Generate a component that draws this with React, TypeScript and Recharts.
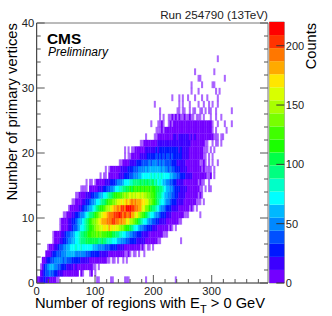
import React from "react";
import { ScatterChart, Scatter, XAxis, YAxis, BarChart, Bar, ReferenceArea } from "recharts";

const FONT = "'Liberation Sans', Arial, sans-serif";
const BIN_X = 3; // regions per bin
const X_MAX = 396.5;
const Y_MAX = 40;
const Z_MAX = 220;
const BAND = 11;

const palette = ["#7300ff","#3c00ff","#0018ff","#0050ff","#0088ff","#00b8ff","#00ffff","#00ffc8","#00ff80","#00ff48","#1aff00","#40ff00","#78ff00","#a8ff00","#d8ff00","#ffe600","#ffaa00","#ff7700","#ff3300","#ff0000"];

const xTicks = [0,20,40,60,80,100,120,140,160,180,200,220,240,260,280,300,320,340,360,380];
const yTicks = [0,2,4,6,8,10,12,14,16,18,20,22,24,26,28,30,32,34,36,38,40];
const zTicks = [0,50,100,150,200];

// counts per vertex row, first value sits in bin rowStarts[row]
const row00 = [4,9,15,20,24,18,14,9,6,4,2,1,1,0,0,0,0,0,0,0,0,0,0,0,0,0,0,0,0,0,0,0,0,0,1,1,0,0,0,0,0,0,1,1,0,0,0,0,0,0,1,1,1,0,0,0,0,0,0,0,0,0,1,0,0,0,0,0,0,0,0,0,0,0,0,0,0,0,0,1];
const row01 = [3,14,26,38,42,46,40,33,24,22,17,14,11,9,10,7,6,5,4,5,3,2,0,2,1,0,0,0,1,2,0,1];
const row02 = [1,8,22,38,52,60,58,55,50,44,38,35,30,27,23,19,16,15,12,10,11,8,7,6,5,4,3,3,2,2,1,1,0,1];
const row03 = [2,6,14,24,32,36,42,45,48,46,44,47,42,44,38,36,38,32,30,27,25,22,20,19,15,14,12,10,9,7,6,5,4,3,3,2,2,1,1,0,1,1,0,1,0,0,1,0,1];
const row04 = [2,5,9,15,22,28,33,38,42,48,50,54,58,56,60,55,57,54,52,48,50,44,46,40,37,38,32,30,27,24,23,19,17,15,12,11,9,7,6,6,4,3,3,2,2,1,1,2,1,0,1,1,0,1,0,0,1];
const row05 = [1,3,6,10,15,20,27,33,40,47,52,58,64,68,72,75,78,74,76,80,76,72,74,70,68,66,62,60,56,54,50,48,44,40,38,34,30,28,25,22,19,17,15,12,10,9,8,6,5,4,4,3,2,1,2,1,0,1,1,0,1];
const row06 = [1,2,4,7,12,18,24,30,36,44,50,56,62,68,74,82,88,92,98,100,104,108,102,106,100,104,98,96,100,92,94,86,84,78,76,70,66,60,58,52,48,44,40,36,32,30,26,23,20,17,14,12,11,8,7,5,4,3,3,2,1,1,0,0,0,0,0,0,0,0,0,0,0,1];
const row07 = [1,2,3,6,9,14,20,26,33,40,47,54,60,68,74,82,88,96,102,108,114,118,124,128,122,132,126,134,128,122,126,118,120,112,106,102,96,90,86,78,72,68,60,56,50,46,40,36,32,28,24,20,18,15,12,10,8,6,5,4,3,2,2,1,1,1];
const row08 = [1,2,4,6,10,15,20,27,34,42,50,58,66,74,84,92,102,110,118,128,136,146,152,160,156,168,172,164,176,170,160,166,154,158,146,140,132,126,116,110,100,94,84,76,68,62,54,48,42,36,30,26,22,18,15,12,10,8,6,5,3,2,1,2,1,0,1];
const row09 = [1,2,3,6,9,13,18,25,32,40,48,56,64,74,82,92,102,112,122,132,142,150,160,170,178,186,180,192,196,188,198,204,190,196,184,192,176,180,164,168,150,144,132,124,112,104,94,86,76,68,60,52,46,40,34,29,24,20,17,14,11,9,7,5,4,3,2,2,1,1];
const row10 = [1,1,3,4,7,11,16,22,28,36,44,52,60,70,78,88,98,108,118,128,138,148,158,166,174,182,190,196,188,202,206,198,210,204,192,208,196,188,198,176,182,160,166,146,138,124,118,104,96,84,76,66,58,50,44,38,32,27,22,19,16,13,10,8,6,5,3,2,2,1,1,1,0,0,0,0,0,0,1];
const row11 = [1,2,2,4,7,10,14,20,26,33,40,48,56,64,72,82,92,100,110,118,128,136,146,152,160,170,176,186,192,184,198,206,194,212,218,214,200,206,190,196,176,182,162,156,140,134,118,108,96,88,78,68,60,52,44,38,32,27,24,20,16,13,11,9,7,5,4,3,2,1,2,1,0,1];
const row12 = [1,1,3,3,6,9,13,18,24,30,36,44,52,58,66,74,82,90,98,106,114,122,130,138,142,150,154,162,168,160,172,178,168,184,188,178,192,182,176,186,170,174,156,160,142,136,122,116,102,94,86,74,66,58,50,44,38,32,28,24,20,16,13,11,9,7,6,4,3,2,2,1,1,1,0,1];
const row13 = [1,1,2,3,5,8,11,15,20,25,30,36,42,50,56,62,68,76,82,90,96,104,110,118,124,130,126,138,144,136,150,154,146,158,150,162,154,148,160,146,150,138,142,124,130,112,106,96,88,80,70,64,56,50,44,38,33,28,24,20,17,14,12,9,8,6,5,3,3,2,1,2,1];
const row14 = [1,1,1,1,0,2,2,4,6,8,12,16,20,25,30,36,42,48,54,60,66,72,78,86,92,98,104,108,112,106,118,122,114,126,120,128,118,130,122,116,124,110,114,100,104,90,92,78,72,64,56,50,44,38,32,28,24,20,17,14,11,9,7,6,4,3,3,2,1,1,0,1,0,1,1];
const row15 = [1,0,1,1,0,1,2,3,4,6,9,12,15,19,23,28,32,38,44,48,54,60,66,70,76,82,86,90,94,88,96,100,92,102,96,104,98,92,100,86,90,76,80,68,62,56,50,44,38,34,28,24,21,18,15,12,10,8,7,5,4,3,3,2,1,2,1,1,0,0,1];
const row16 = [1,0,1,1,0,2,3,4,5,8,10,13,17,20,24,28,32,37,41,46,50,54,58,62,66,70,72,76,70,78,74,80,76,82,74,78,70,72,66,68,58,60,50,46,40,36,30,27,22,19,16,14,11,9,8,6,5,4,3,3,2,1,1,2,0,1];
const row17 = [1,0,1,2,3,4,5,7,9,11,14,17,20,24,27,31,35,38,42,45,48,52,50,56,54,60,57,62,58,64,56,60,52,56,48,50,42,44,37,33,30,26,22,19,16,14,11,10,8,6,5,4,3,3,2,1,2,1,1,1,1,0,1];
const row18 = [1,1,2,4,6,9,11,14,17,20,24,27,30,34,37,40,38,44,42,46,44,48,42,46,40,44,38,40,34,36,30,27,24,21,18,15,13,11,9,7,6,5,4,3,2,2,1,1,2,1,0,1,0,1,0,0,1];
const row19 = [1,0,1,1,3,4,6,8,10,13,15,18,21,24,27,26,30,28,33,31,35,30,36,32,37,33,30,34,28,30,26,27,23,20,17,15,12,10,8,6,5,4,3,2,2,1,1,0,1,0,1];
const row20 = [1,0,1,0,1,1,2,3,5,6,8,9,11,13,15,17,18,20,22,21,24,23,26,24,27,25,28,24,26,22,24,20,22,18,16,14,12,10,8,7,6,4,3,2,2,1,1,1,0,1,0,1];
const row21 = [1,1,2,2,3,5,6,7,9,10,11,13,14,15,16,18,17,19,18,20,18,17,19,16,17,14,15,13,12,10,8,7,6,4,3,2,2,1,1,0,0,1,0,1,1,0,1];
const row22 = [1,0,0,0,0,1,1,2,3,4,5,6,7,8,9,10,11,12,10,13,11,14,12,11,13,10,12,9,11,8,9,7,6,5,4,3,3,2,2,1,1,1,0,1,1];
const row23 = [1,1,1,2,1,2,3,2,4,3,5,4,6,5,7,6,5,8,6,7,9,6,8,5,7,6,4,5,3,4,3,2,1,0,1,0,0,0,0,0,1];
const row24 = [1,0,0,0,1,1,2,1,0,0,1,2,1,3,2,3,2,4,3,5,3,4,6,4,5,3,4,3,4,2,3,2,3,2,2,1,0,0,1,0,0,0,1,0,0,0,1];
const row25 = [1,0,1,0,0,1,1,2,1,2,1,2,1,1,2,1,1,2,1,1,0,1,1,1,0,1,0,0,0,1,0,0,1,0,0,1];
const row26 = [1,0,0,0,0,0,0,0,0,0,1,1,0,1,1,0,0,1,0,1,1,0,0,1,1,0,1,0,1,1,0,0,1,0,0,0,0,0,0,0,0,1];
const row27 = [1,0,0,0,0,0,0,0,0,0,0,0,0,0,1,0,1,0,0,0,1,0,0,0,0,1,0,0,1,0,0,1,0,1,0,0,1];
const row28 = [1,0,0,0,1,0,1,0,0,1,0,0,0,1,0,0,0,1,0,0,1,0,0,0,0,0,1];
const row29 = [1,0,0,0,1,0,0,0,0,0,0,0,0,0,1,0,1];
const row30 = [1,0,0,0,0,0,1,0,0,0,0,0,1,1];
const row31 = [1,1,0,0,0,0,0,0,0,0,0,0,0,0,0,1];
const row32 = [1,0,0,0,0,0,0,0,0,0,0,1];
const row33: number[] = [];
const row34 = [1];

const rowStarts = [0,2,2,3,5,6,9,9,13,13,15,18,20,22,25,28,36,39,47,50,50,59,62,68,65,70,70,67,77,88,88,92,90,0,103];
const rowCounts = [row00,row01,row02,row03,row04,row05,row06,row07,row08,row09,row10,row11,row12,row13,row14,row15,row16,row17,row18,row19,row20,row21,row22,row23,row24,row25,row26,row27,row28,row29,row30,row31,row32,row33,row34];

const cells = rowCounts.flatMap((counts, r) =>
  counts.flatMap((count, i) =>
    count > 0 ? [{ x: (rowStarts[r] + i + 0.5) * BIN_X, y: r + 0.5, count }] : []
  )
);
const bandRow = [Object.fromEntries(palette.map((_, i) => [`b${i}`, BAND]))];

const W = 332, H = 316;
const m = { top: 22, right: 63, bottom: 32, left: 35.7 }; // axes take 1px each
const pxX = (W - m.left - m.right - 2) / X_MAX;
const pxY = (H - m.top - m.bottom - 2) / Y_MAX;

const Cell = (p: any) => {
  const count = p.payload.count;
  const w = BIN_X * pxX + 0.3, h = pxY + 0.3;
  return <rect x={p.cx - w / 2} y={p.cy - h / 2} width={w} height={h}
    fill={palette[Math.min(19, Math.floor(count / BAND))]} fillOpacity={count <= 1 ? 0.6 : 1} />;
};

const TICK = "#555";
const lbl = { fontFamily: FONT, fontSize: 11.2, fill: "#222" };

const BottomTick = ({ x, y, payload }: any) => {
  const major = payload.value % 100 === 0;
  return <g>
    <line x1={x} x2={x} y1={y} y2={y - (major ? 8 : 4)} stroke={TICK} />
    {major && <text x={x} y={y + 11.5} textAnchor="middle" {...lbl}>{payload.value}</text>}
  </g>;
};
const TopTick = ({ x, y, payload }: any) => (
  <line x1={x} x2={x} y1={y} y2={y + (payload.value % 100 === 0 ? 8 : 4)} stroke={TICK} />
);
const LeftTick = ({ x, y, payload }: any) => {
  const major = payload.value % 10 === 0;
  return <g>
    <line x1={x} x2={x + (major ? 8 : 4)} y1={y} y2={y} stroke={TICK} />
    {major && <text x={x - 2.5} y={y + 4} textAnchor="end" {...lbl}>{payload.value}</text>}
  </g>;
};
const RightTick = ({ x, y, payload }: any) => (
  <line x1={x} x2={x - (payload.value % 10 === 0 ? 8 : 4)} y1={y} y2={y} stroke={TICK} />
);
const ZTick = ({ x, y, payload }: any) => (
  <g>
    <line x1={x} x2={x - 8} y1={y} y2={y} stroke="#333" />
    <text x={x + 1.5} y={y + 4} {...lbl} fontSize={11}>{payload.value}</text>
  </g>
);

export default function App() {
  return (
    <div style={{ position: "absolute", left: 0, top: 0, width: W, height: H, background: "#fff", overflow: "hidden" }}>
      <div style={{ position: "absolute", left: 0, top: 0 }}>
        <ScatterChart width={W} height={H} margin={m}>
          <XAxis xAxisId="b" type="number" dataKey="x" domain={[0, X_MAX]} ticks={xTicks} interval={0} height={1}
            tickSize={0} tickMargin={0} tickLine={false} tick={BottomTick} stroke="#222" allowDataOverflow />
          <XAxis xAxisId="t" orientation="top" type="number" domain={[0, X_MAX]} ticks={xTicks} interval={0} height={1}
            tickSize={0} tickMargin={0} tickLine={false} tick={TopTick} stroke="#777" allowDataOverflow />
          <YAxis yAxisId="l" type="number" dataKey="y" domain={[0, Y_MAX]} ticks={yTicks} interval={0} width={1}
            tickSize={0} tickMargin={0} tickLine={false} tick={LeftTick} stroke="#222" allowDataOverflow />
          <YAxis yAxisId="r" orientation="right" type="number" domain={[0, Y_MAX]} ticks={yTicks} interval={0} width={1}
            tickSize={0} tickMargin={0} tickLine={false} tick={RightTick} stroke="#777" allowDataOverflow />
          <Scatter xAxisId="b" yAxisId="l" data={cells} shape={Cell} isAnimationActive={false} />
          <text x={47} y={44} fontFamily={FONT} fontWeight="bold" fontSize={15.4} fill="#000">CMS</text>
          <text x={48} y={55.5} fontFamily={FONT} fontStyle="italic" fontSize={12} fill="#000">Preliminary</text>
          <text x={268} y={19} textAnchor="end" fontFamily={FONT} fontSize={11.7} fill="#222">Run 254790 (13TeV)</text>
          <text transform="translate(17,23) rotate(-90)" textAnchor="end" fontFamily={FONT} fontSize={14.8} fill="#000">Number of primary vertices</text>
          <text x={35} y={307.5} fontFamily={FONT} fontSize={14.7} fill="#000">
            Number of regions with E<tspan dy={5} fontSize={11}>T</tspan><tspan dy={-5}> &gt; 0 GeV</tspan>
          </text>
        </ScatterChart>
      </div>
      <div style={{ position: "absolute", left: 0, top: 0 }}>
        <BarChart width={W} height={H} data={bandRow} margin={{ top: 22, right: 46.7, bottom: 33, left: 269.3 }} barCategoryGap={0}>
          <XAxis hide />
          <YAxis orientation="right" type="number" domain={[0, Z_MAX]} ticks={zTicks} interval={0} width={1}
            tickSize={0} tickMargin={0} tickLine={false} axisLine={false} tick={ZTick} />
          {palette.map((c, i) => (
            <Bar key={c} dataKey={`b${i}`} stackId="z" fill={c} isAnimationActive={false} />
          ))}
          <ReferenceArea y1={0} y2={Z_MAX} fill="none" stroke="#999" />
          <text transform="translate(316,23) rotate(-90)" textAnchor="end" fontFamily={FONT} fontSize={14.6} fill="#000">Counts</text>
        </BarChart>
      </div>
    </div>
  );
}
